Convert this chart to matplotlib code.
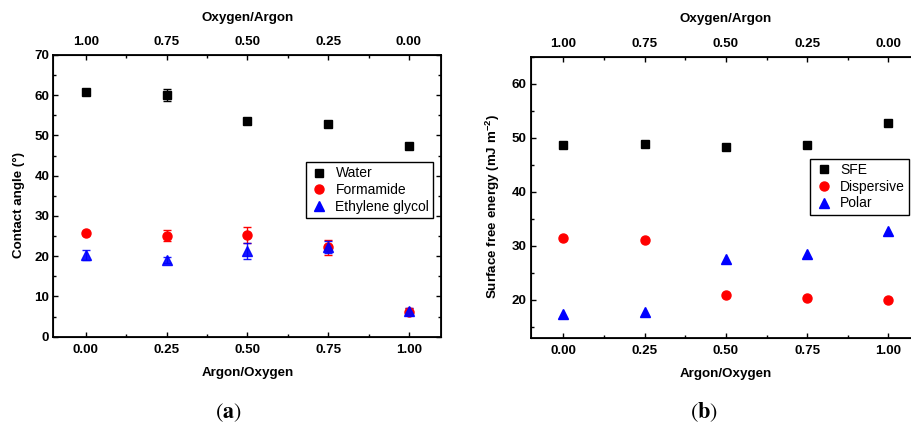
import matplotlib
matplotlib.use("Agg")
import matplotlib.pyplot as plt
from matplotlib.ticker import MultipleLocator
from matplotlib.lines import Line2D

plt.rcParams['font.family'] = ['Liberation Sans', 'DejaVu Sans']
plt.rcParams['mathtext.fontset'] = 'custom'
plt.rcParams['mathtext.rm'] = 'Liberation Sans'
plt.rcParams['mathtext.bf'] = 'Liberation Sans:bold'

# ---- data ----
ratio = [0.0, 0.25, 0.5, 0.75, 1.0]
bottom_labels = ['0.00', '0.25', '0.50', '0.75', '1.00']
top_labels = ['1.00', '0.75', '0.50', '0.25', '0.00']

water = [60.7, 60.0, 53.7, 52.9, 47.5]
water_err = [0.4, 1.45, 0.4, 0.8, 0.4]
formamide = [25.7, 25.1, 25.3, 22.2, 6.2]
formamide_err = [0.4, 1.3, 2.0, 1.9, 0.9]
eg = [20.3, 19.0, 21.3, 22.3, 6.3]
eg_err = [1.2, 0.7, 1.9, 1.4, 0.8]

sfe = [48.6, 48.9, 48.3, 48.7, 52.7]
dispersive = [31.4, 31.0, 20.9, 20.4, 20.0]
polar = [17.3, 17.8, 27.5, 28.4, 32.8]

fig = plt.figure(figsize=(9.12, 4.25), dpi=100)

tick_fs = 9.6
lab_fs = 9.6
leg_fs = 10


def style(ax, ymaj, ymin):
    ax.set_xlim(-0.1, 1.1)
    ax.set_xticks(ratio)
    ax.set_xticklabels(bottom_labels, fontweight='bold', fontsize=tick_fs)
    ax.xaxis.set_minor_locator(MultipleLocator(0.125))
    ax.yaxis.set_major_locator(MultipleLocator(ymaj))
    ax.yaxis.set_minor_locator(MultipleLocator(ymin))
    for lab in ax.get_yticklabels():
        lab.set_fontweight('bold')
        lab.set_fontsize(tick_fs)
    ax.tick_params(which='both', direction='in', bottom=True, left=True,
                   right=True, top=False, width=1.0)
    ax.tick_params(which='major', length=3.6)
    ax.tick_params(which='minor', length=2.2)
    ax.tick_params(axis='x', which='major', pad=5)
    ax.tick_params(axis='y', which='major', pad=3)
    for s in ax.spines.values():
        s.set_linewidth(1.3)
    ax.set_xlabel('Argon/Oxygen', fontweight='bold', fontsize=lab_fs, labelpad=8)
    top = ax.twiny()
    top.set_xlim(ax.get_xlim())
    top.set_xticks(ratio)
    top.set_xticklabels(top_labels, fontweight='bold', fontsize=tick_fs)
    top.xaxis.set_minor_locator(MultipleLocator(0.125))
    top.tick_params(which='both', direction='in', width=1.0)
    top.tick_params(which='major', length=3.6, pad=5)
    top.tick_params(which='minor', length=2.2)
    top.set_xlabel('Oxygen/Argon', fontweight='bold', fontsize=lab_fs, labelpad=11)
    return top


def make_legend(ax, labels, anchor):
    handles = [
        Line2D([], [], ls='none', marker='s', color='black', ms=6),
        Line2D([], [], ls='none', marker='o', color='red', ms=6.5),
        Line2D([], [], ls='none', marker='^', color='blue', ms=7),
    ]
    leg = ax.legend(handles, labels, loc='upper left', bbox_to_anchor=anchor,
                    fontsize=leg_fs, frameon=True, fancybox=False,
                    handletextpad=0.47, borderpad=0.3, labelspacing=0.2,
                    handlelength=1.37, borderaxespad=0)
    leg.get_frame().set_edgecolor('black')
    leg.get_frame().set_linewidth(1.0)
    leg.get_frame().set_alpha(1)
    return leg


# ---- panel (a) ----
ax1 = fig.add_axes([0.0586, 0.2078, 0.4252, 0.6628])
ax1.errorbar(ratio, water, yerr=water_err, fmt='s', color='black', ms=6,
             capsize=2.6, elinewidth=1, capthick=1)
ax1.errorbar(ratio, formamide, yerr=formamide_err, fmt='o', color='red', ms=6.5,
             capsize=2.6, elinewidth=1, capthick=1)
ax1.errorbar(ratio, eg, yerr=eg_err, fmt='^', color='blue', ms=7, alpha=0.9,
             capsize=2.6, elinewidth=1, capthick=1)
ax1.set_ylim(0, 70)
style(ax1, 10, 5)
ax1.set_ylabel('Contact angle (°)', fontweight='bold', fontsize=lab_fs)
ax1.yaxis.set_label_coords(-0.073, 0.466)
make_legend(ax1, ['Water', 'Formamide', 'Ethylene glycol'], (0.6506, 0.619))

# ---- panel (b) ----
ax2 = fig.add_axes([0.5822, 0.2054, 0.4276, 0.6612])
ax2.plot(ratio, sfe, 's', color='black', ms=6)
ax2.plot(ratio, dispersive, 'o', color='red', ms=6.5)
ax2.plot(ratio, polar, '^', color='blue', ms=7)
ax2.set_ylim(13, 65)
style(ax2, 10, 5)
ax2.set_ylabel(r'Surface free energy (mJ m$^{\mathbf{-2}}$)', fontweight='bold',
               fontsize=lab_fs)
ax2.yaxis.set_label_coords(-0.074, 0.467)
make_legend(ax2, ['SFE', 'Dispersive', 'Polar'], (0.716, 0.637))

# ---- captions ----
fig.text(228 / 912, 1 - 413 / 425, r'$(\mathbf{a})$', ha='center', va='center',
         fontsize=16, math_fontfamily='stix')
fig.text(704 / 912, 1 - 412 / 425, r'$(\mathbf{b})$', ha='center', va='center',
         fontsize=16, math_fontfamily='stix')

fig.savefig('out.png', dpi=100)
